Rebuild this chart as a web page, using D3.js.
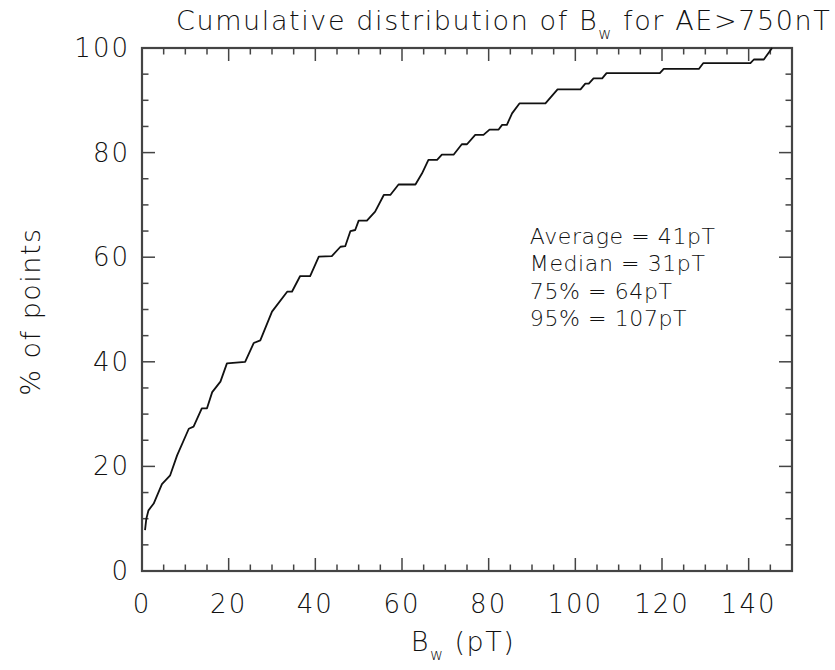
<!DOCTYPE html>
<html>
<head>
  <title>Cumulative distribution of Bw</title>
  <script src="https://d3js.org/d3.v7.min.js"></script>
  <style>
    body { margin: 0; background: #fff; }
    text { font-family: "DejaVu Sans", sans-serif; font-weight: 200; fill: #111; }
  </style>
</head>
<body>
  <svg width="835" height="670"></svg>

  <script>
    // curve: Bw (pT) against % of points
    var bw  = [0.7, 1.0, 1.5, 2.7, 4.6, 6.5, 8.1, 10.8, 11.9, 13.8, 15.0, 16.2, 18.1, 19.6, 23.8,
               25.8, 27.3, 30.0, 33.5, 34.6, 36.5, 38.8, 40.8, 43.8, 45.8, 46.9, 48.1, 49.2, 50.0,
               51.9, 53.8, 55.8, 57.3, 59.2, 63.1, 64.6, 66.1, 68.1, 69.2, 71.9, 73.8, 75.0, 76.9,
               78.8, 80.2, 82.3, 83.1, 84.2, 85.4, 87.1, 93.1, 95.9, 101.2, 102.3, 103.1, 104.2,
               106.2, 107.2, 119.5, 120.4, 128.5, 129.5, 140.4, 141.2, 143.5, 145.4];
    var pct = [7.8, 10.0, 11.6, 12.9, 16.6, 18.3, 22.1, 27.2, 27.6, 31.1, 31.1, 34.2, 36.2, 39.7, 40.0,
               43.6, 44.1, 49.6, 53.4, 53.4, 56.4, 56.4, 60.1, 60.2, 62.0, 62.1, 65.0, 65.2, 67.0,
               67.0, 68.7, 71.9, 71.9, 73.9, 73.9, 76.0, 78.6, 78.6, 79.6, 79.6, 81.6, 81.6, 83.4,
               83.4, 84.4, 84.4, 85.3, 85.3, 87.5, 89.4, 89.4, 92.1, 92.1, 93.2, 93.2, 94.2,
               94.2, 95.2, 95.2, 96.0, 96.0, 97.1, 97.1, 97.8, 97.8, 100.0];

    var xTicks = [0, 20, 40, 60, 80, 100, 120, 140];
    var yTicks = [0, 20, 40, 60, 80, 100];
    var xMinor = d3.range(0, 151, 5);
    var yMinor = d3.range(0, 101, 5);

    var notes = ["Average = 41pT", "Median = 31pT", "75% = 64pT", "95% = 107pT"];

    var svg = d3.select("svg"),
        margin = {top: 48, right: 43, bottom: 99, left: 142},
        width = +svg.attr("width") - margin.left - margin.right,
        height = +svg.attr("height") - margin.top - margin.bottom;

    var x = d3.scaleLinear().domain([0, 150]).range([0, width]);
    var y = d3.scaleLinear().domain([0, 100]).range([height, 0]);

    var g = svg.append("g")
        .attr("transform", "translate(" + margin.left + "," + margin.top + ")");

    var axisColor = "#444";

    // ticks on all four sides, pointing inward
    function tickLen(v, majors) { return majors.indexOf(v) >= 0 ? 13 : 6.5; }

    g.selectAll(".xt-bottom").data(xMinor).enter().append("line")
        .attr("x1", function(d) { return x(d); }).attr("x2", function(d) { return x(d); })
        .attr("y1", height).attr("y2", function(d) { return height - tickLen(d, xTicks); })
        .attr("stroke", axisColor).attr("stroke-width", 1.5);
    g.selectAll(".xt-top").data(xMinor).enter().append("line")
        .attr("x1", function(d) { return x(d); }).attr("x2", function(d) { return x(d); })
        .attr("y1", 0).attr("y2", function(d) { return tickLen(d, xTicks); })
        .attr("stroke", axisColor).attr("stroke-width", 1.5);
    g.selectAll(".yt-left").data(yMinor).enter().append("line")
        .attr("y1", function(d) { return y(d); }).attr("y2", function(d) { return y(d); })
        .attr("x1", 0).attr("x2", function(d) { return tickLen(d, yTicks); })
        .attr("stroke", axisColor).attr("stroke-width", 1.5);
    g.selectAll(".yt-right").data(yMinor).enter().append("line")
        .attr("y1", function(d) { return y(d); }).attr("y2", function(d) { return y(d); })
        .attr("x1", width).attr("x2", function(d) { return width - tickLen(d, yTicks); })
        .attr("stroke", axisColor).attr("stroke-width", 1.5);

    g.append("rect")
        .attr("width", width).attr("height", height)
        .attr("fill", "none").attr("stroke", axisColor).attr("stroke-width", 2.2);

    // tick labels
    g.selectAll(".xl").data(xTicks).enter().append("text")
        .attr("x", function(d) { return x(d); })
        .attr("y", height + 42)
        .attr("text-anchor", "middle")
        .style("font-size", "26px").style("letter-spacing", "2px")
        .text(function(d) { return d; });

    g.selectAll(".yl").data(yTicks).enter().append("text")
        .attr("x", -12)
        .attr("y", function(d) { return y(d) + 9; })
        .attr("text-anchor", "end")
        .style("font-size", "26px").style("letter-spacing", "2px")
        .text(function(d) { return d; });

    // the curve
    var line = d3.line()
        .x(function(d, i) { return x(bw[i]); })
        .y(function(d, i) { return y(pct[i]); });

    g.append("path")
        .datum(bw)
        .attr("fill", "none")
        .attr("stroke", "#111")
        .attr("stroke-width", 1.8)
        .attr("stroke-linejoin", "round")
        .attr("d", line);

    // statistics
    g.selectAll(".note").data(notes).enter().append("text")
        .attr("x", x(89.5))
        .attr("y", function(d, i) { return y(62.5) + i * 27.3; })
        .style("font-size", "22px").style("letter-spacing", "0.6px")
        .text(function(d) { return d; });

    // title
    var title = svg.append("text")
        .attr("x", 176).attr("y", 30)
        .style("font-size", "27px").style("letter-spacing", "1.6px");
    title.append("tspan").text("Cumulative distribution of B");
    title.append("tspan").attr("dy", 9).style("font-size", "16px").text("w");
    title.append("tspan").attr("dy", -9).text(" for AE>750nT");

    // axis titles
    var xt = svg.append("text")
        .attr("x", margin.left + width / 2 - 4).attr("y", 651)
        .attr("text-anchor", "middle")
        .style("font-size", "27px").style("letter-spacing", "1.5px");
    xt.append("tspan").text("B");
    xt.append("tspan").attr("dy", 9).style("font-size", "16px").text("w");
    xt.append("tspan").attr("dy", -9).text(" (pT)");

    svg.append("text")
        .attr("transform", "translate(40," + (margin.top + height / 2 + 2) + ") rotate(-90)")
        .attr("text-anchor", "middle")
        .style("font-size", "27px").style("letter-spacing", "1.5px")
        .text("% of points");
  </script>
</body>
</html>
